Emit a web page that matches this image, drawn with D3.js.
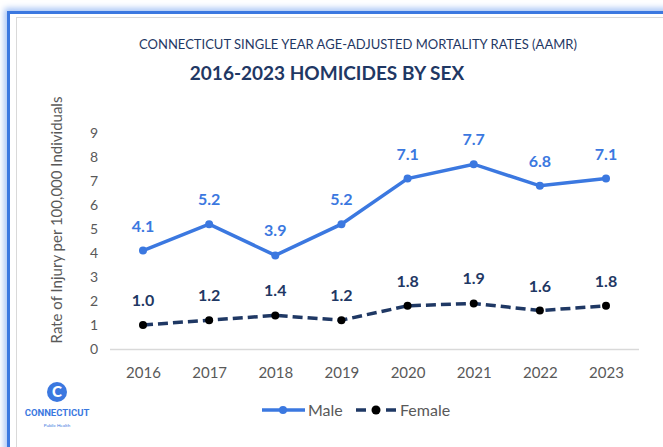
<!DOCTYPE html>
<html lang="en">
<head>
  <meta charset="UTF-8">
  <title>2016-2023 Homicides by Sex</title>
  <script src="https://d3js.org/d3.v7.min.js"></script>
  <style>
    body { margin: 0; background: #fff; font-family: Lato, "Open Sans", sans-serif; }
    svg { display: block; }
  </style>
</head>
<body>
  <div id="chart"></div>
  <script>
    // data
    const years = ["2016", "2017", "2018", "2019", "2020", "2021", "2022", "2023"];
    const male = [4.1, 5.2, 3.9, 5.2, 7.1, 7.7, 6.8, 7.1];
    const female = [1.0, 1.2, 1.4, 1.2, 1.8, 1.9, 1.6, 1.8];
    const yTicks = [0, 1, 2, 3, 4, 5, 6, 7, 8, 9];

    const W = 663, H = 447;
    const blue = "#3b78e0", navy = "#1f3864", grey = "#595959";

    const svg = d3.select("#chart").append("svg")
      .attr("width", W).attr("height", H);

    // frame with a soft glow on left/top
    const defs = svg.append("defs");
    const f = defs.append("filter").attr("id", "glow")
      .attr("x", "-10%").attr("y", "-10%").attr("width", "120%").attr("height", "120%");
    f.append("feGaussianBlur").attr("stdDeviation", 3);
    svg.append("rect").attr("x", 8).attr("y", 12).attr("width", 700).attr("height", 500)
      .attr("fill", "none").attr("stroke", "#9dbdf5").attr("stroke-width", 7)
      .attr("filter", "url(#glow)");
    svg.append("rect").attr("x", 8.5).attr("y", 12.5).attr("width", 700).attr("height", 500)
      .attr("fill", "#fff").attr("stroke", "#3b78e0").attr("stroke-width", 3);
    svg.append("rect").attr("x", 16.5).attr("y", 17.5).attr("width", 700).attr("height", 500)
      .attr("fill", "#fff").attr("stroke", "#d9d9d9").attr("stroke-width", 1);

    // titles
    svg.append("text").attr("x", 358).attr("y", 49).attr("text-anchor", "middle")
      .attr("fill", navy).style("font-size", "13px")
      .text("CONNECTICUT SINGLE YEAR AGE-ADJUSTED MORTALITY RATES (AAMR)");
    svg.append("text").attr("x", 327).attr("y", 80).attr("text-anchor", "middle")
      .attr("fill", navy).style("font-size", "19px").style("font-weight", "bold")
      .text("2016-2023 HOMICIDES BY SEX");

    const x = d3.scalePoint().domain(years).range([143, 606]);
    const y = d3.scaleLinear().domain([0, 9]).range([349, 133]);

    // axes
    const xAxis = svg.append("g").attr("transform", "translate(0,349)")
      .call(d3.axisBottom(x).tickSize(0).tickPadding(18));
    xAxis.select(".domain").remove();
    xAxis.selectAll("text").attr("fill", grey).style("font-size", "15px").style("font-family", "Lato, sans-serif");
    svg.append("line").attr("x1", 110).attr("x2", 639).attr("y1", 349.5).attr("y2", 349.5)
      .attr("stroke", "#d9d9d9").attr("stroke-width", 1.5);

    const yAxis = svg.append("g").attr("transform", "translate(98,0)")
      .call(d3.axisLeft(y).tickValues(yTicks).tickSize(0).tickPadding(0));
    yAxis.select(".domain").remove();
    yAxis.selectAll("text").attr("fill", grey).style("font-size", "14px").style("font-family", "Lato, sans-serif");

    svg.append("text").attr("transform", "translate(62,220) rotate(-90)")
      .attr("text-anchor", "middle").attr("fill", grey).style("font-size", "15px")
      .text("Rate of Injury per 100,000 Individuals");

    const line = d3.line().x((d, i) => x(years[i])).y(d => y(d));

    // female (dashed)
    svg.append("path").datum(female).attr("d", line).attr("fill", "none")
      .attr("stroke", navy).attr("stroke-width", 3.5).attr("stroke-dasharray", "10,5");
    svg.selectAll(".fdot").data(female).enter().append("circle")
      .attr("cx", (d, i) => x(years[i])).attr("cy", d => y(d)).attr("r", 4).attr("fill", "#000");
    svg.selectAll(".flab").data(female).enter().append("text")
      .attr("x", (d, i) => x(years[i])).attr("y", d => y(d) - 19).attr("text-anchor", "middle")
      .attr("fill", navy).style("font-size", "16px").style("font-weight", "bold")
      .text(d => d.toFixed(1));

    // male
    svg.append("path").datum(male).attr("d", line).attr("fill", "none")
      .attr("stroke", blue).attr("stroke-width", 3.5);
    svg.selectAll(".mdot").data(male).enter().append("circle")
      .attr("cx", (d, i) => x(years[i])).attr("cy", d => y(d)).attr("r", 4).attr("fill", blue);
    svg.selectAll(".mlab").data(male).enter().append("text")
      .attr("x", (d, i) => x(years[i])).attr("y", d => y(d) - 19).attr("text-anchor", "middle")
      .attr("fill", blue).style("font-size", "16px").style("font-weight", "bold")
      .text(d => d.toFixed(1));

    // legend
    const lg = svg.append("g").attr("transform", "translate(0,410)");
    lg.append("line").attr("x1", 262).attr("x2", 305).attr("stroke", blue).attr("stroke-width", 3.5);
    lg.append("circle").attr("cx", 283).attr("r", 4).attr("fill", blue);
    lg.append("text").attr("x", 308).attr("y", 5.5).attr("fill", grey).style("font-size", "16px").text("Male");
    lg.append("line").attr("x1", 356).attr("x2", 397).attr("stroke", navy).attr("stroke-width", 3.5)
      .attr("stroke-dasharray", "10,20");
    lg.append("circle").attr("cx", 376).attr("r", 4.5).attr("fill", "#000");
    lg.append("text").attr("x", 400).attr("y", 5.5).attr("fill", grey).style("font-size", "16px").text("Female");

    // logo
    const logo = svg.append("g");
    logo.append("circle").attr("cx", 57).attr("cy", 392).attr("r", 10).attr("fill", blue);
    logo.append("text").attr("x", 57).attr("y", 397).attr("text-anchor", "middle")
      .attr("fill", "#fff").style("font-size", "15px").style("font-weight", "900").text("C");
    logo.append("text").attr("x", 57).attr("y", 416).attr("text-anchor", "middle")
      .attr("fill", blue).style("font-size", "9.5px").style("font-weight", "bold")
      .style("font-family", "Roboto, sans-serif").text("CONNECTICUT");
    logo.append("text").attr("x", 57).attr("y", 427).attr("text-anchor", "middle")
      .attr("fill", blue).style("font-size", "4.5px").text("Public Health");
  </script>
</body>
</html>
